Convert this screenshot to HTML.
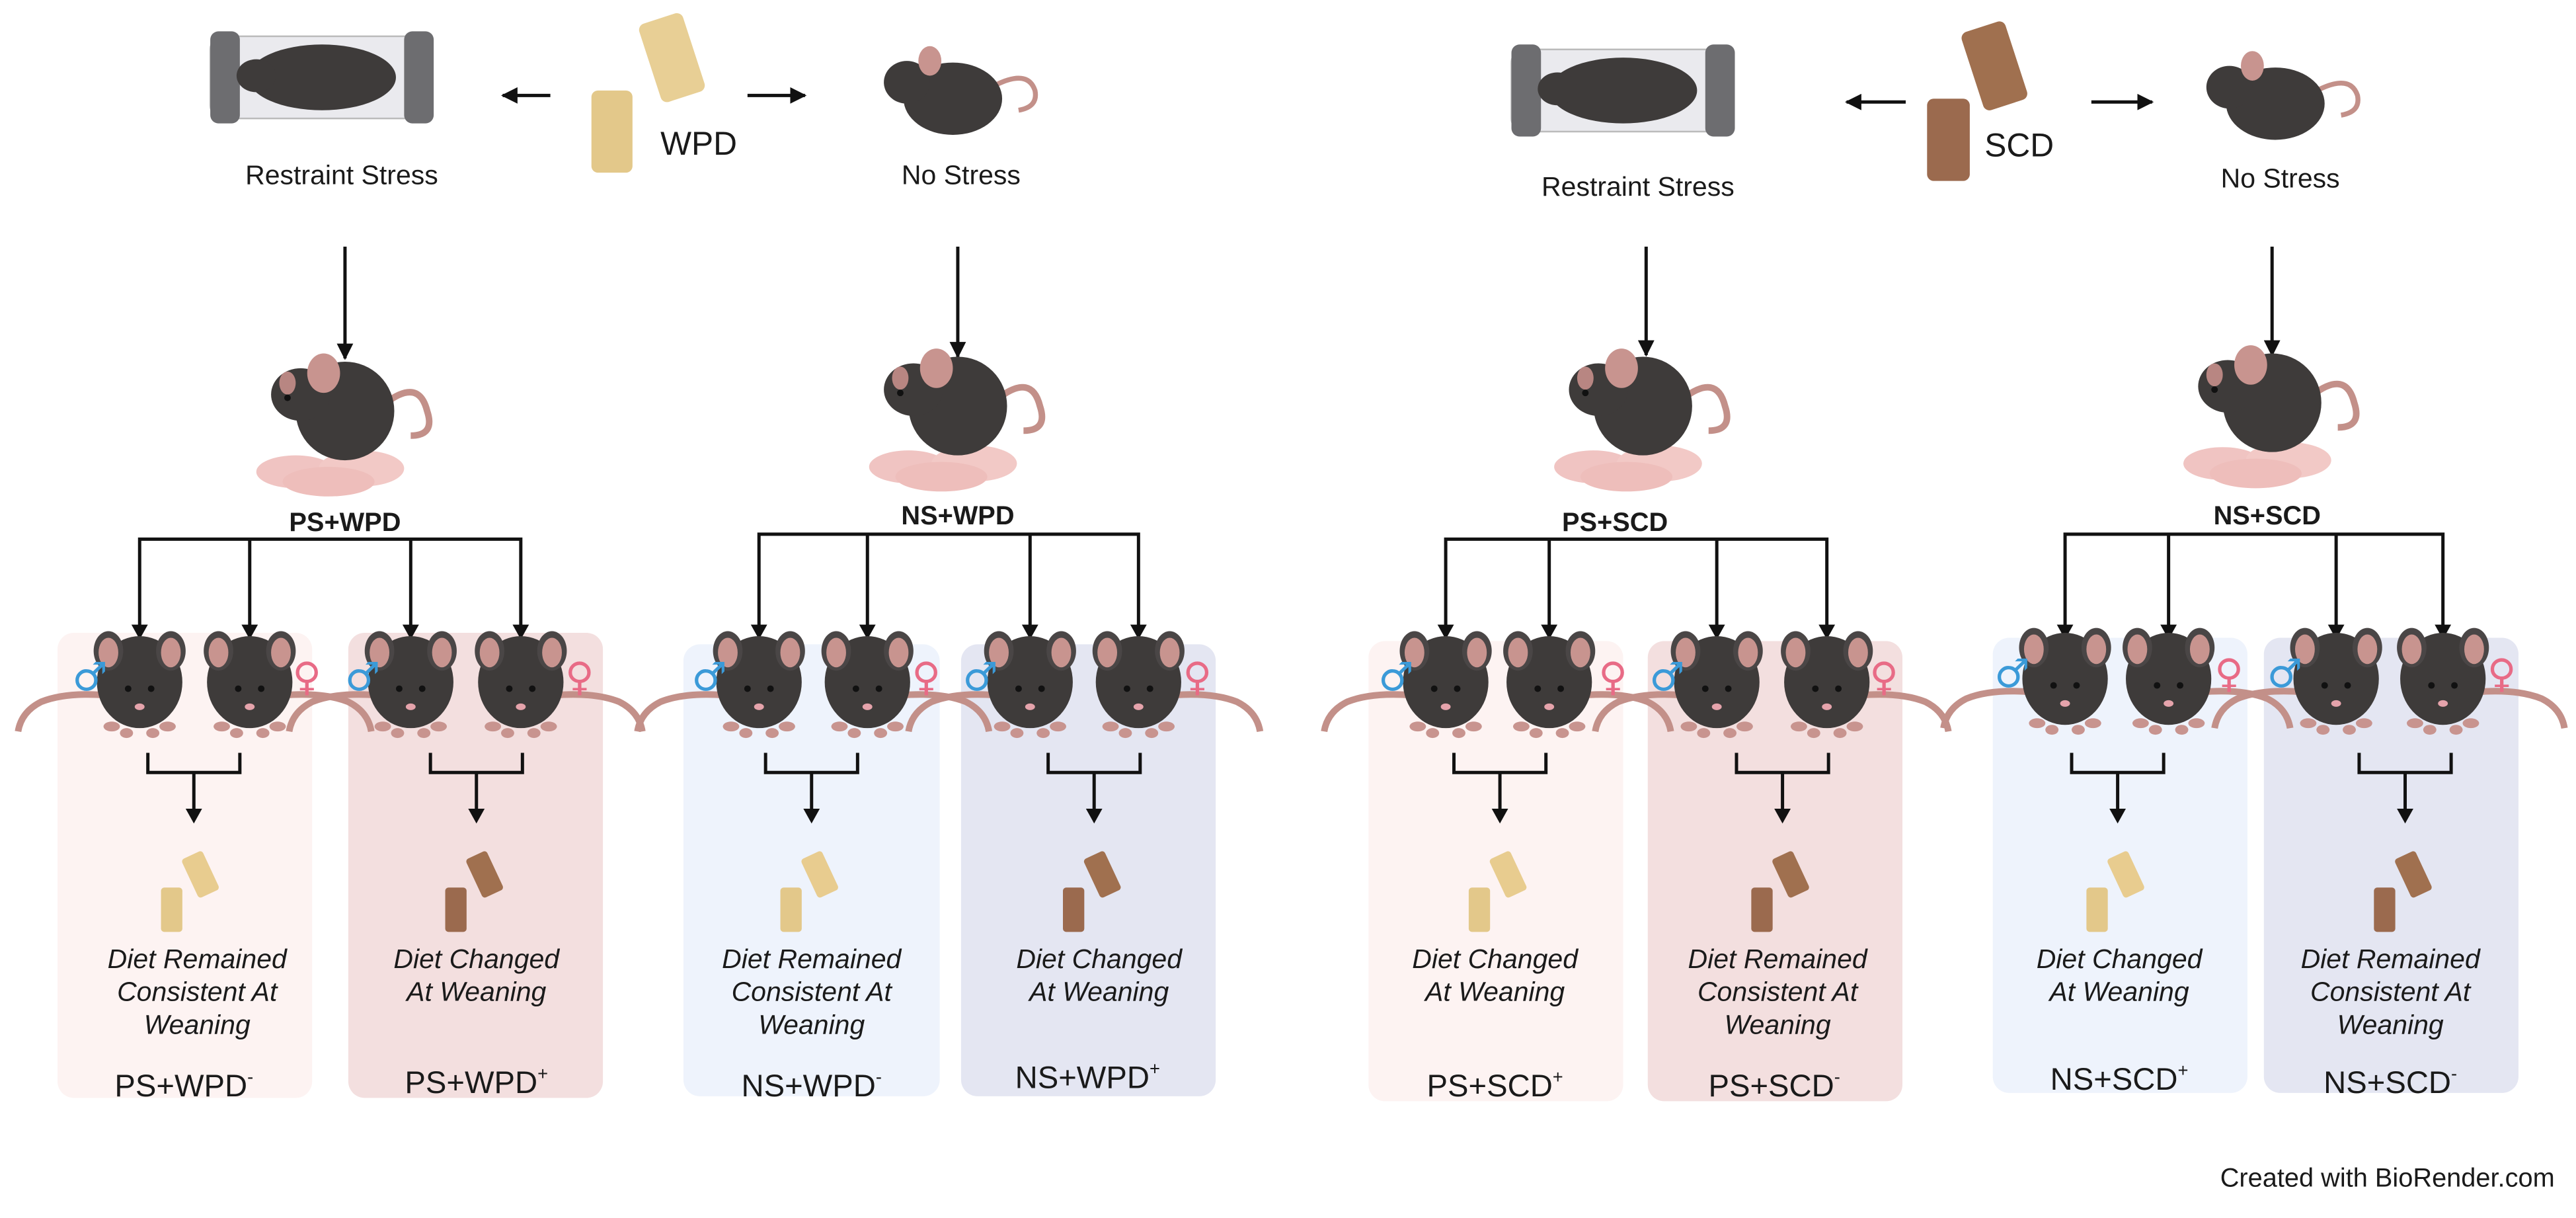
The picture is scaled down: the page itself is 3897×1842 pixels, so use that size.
<!DOCTYPE html>
<html><head><meta charset="utf-8"><style>
html,body{margin:0;padding:0;background:#fff}
svg{display:block}
text{font-family:"Liberation Sans",sans-serif;fill:#1a1a1a}
.it{font-style:italic;font-size:16.5px}
.lab{font-size:19px}
.b{font-weight:bold;font-size:16px}
text.m{fill:#3b9ad8;font-family:"DejaVu Sans",sans-serif}
text.f{fill:#e86b86;font-family:"DejaVu Sans",sans-serif}
</style></head><body>
<svg width="3897" height="1842" viewBox="0 0 1568 741" xmlns="http://www.w3.org/2000/svg">
<defs>
<marker id="ah" viewBox="0 0 10 10" refX="9" refY="5" markerWidth="5" markerHeight="5" orient="auto-start-reverse"><path d="M0,0L10,5L0,10z" fill="#111"/></marker>
<g id="mf">
 <path d="M-20,8 Q-45,6 -60,12 Q-72,18 -74,30" stroke="#c39089" stroke-width="4" fill="none"/>
 <ellipse cx="0" cy="0" rx="26" ry="28" fill="#3e3b3a"/>
 <ellipse cx="-19" cy="-19" rx="9" ry="12" fill="#4a4646"/><ellipse cx="-19" cy="-18" rx="6" ry="9" fill="#c8948f"/>
 <ellipse cx="19" cy="-19" rx="9" ry="12" fill="#4a4646"/><ellipse cx="19" cy="-18" rx="6" ry="9" fill="#c8948f"/>
 <circle cx="-7" cy="4" r="2" fill="#111"/><circle cx="7" cy="4" r="2" fill="#111"/>
 <ellipse cx="0" cy="15" rx="3" ry="2" fill="#e5a3ab"/>
 <ellipse cx="-17" cy="27" rx="5" ry="3" fill="#c8948f"/><ellipse cx="17" cy="27" rx="5" ry="3" fill="#c8948f"/>
 <ellipse cx="-8" cy="31" rx="4" ry="3" fill="#c8948f"/><ellipse cx="8" cy="31" rx="4" ry="3" fill="#c8948f"/>
</g>
<g id="mom">
 <ellipse cx="-25" cy="62" rx="24" ry="10" fill="#f0c4c2"/><ellipse cx="15" cy="60" rx="26" ry="11" fill="#f2c9c6"/><ellipse cx="-5" cy="68" rx="28" ry="9" fill="#eebebb"/>
 <path d="M30,20 Q50,5 55,25 Q60,40 45,40" stroke="#c39089" stroke-width="4" fill="none"/>
 <ellipse cx="5" cy="25" rx="30" ry="30" fill="#3e3b3a"/>
 <ellipse cx="-22" cy="15" rx="18" ry="16" fill="#3e3b3a"/>
 <ellipse cx="-8" cy="2" rx="10" ry="12" fill="#c8948f"/><ellipse cx="-30" cy="8" rx="5" ry="7" fill="#b88682"/>
 <circle cx="-30" cy="17" r="2" fill="#111"/>
</g>
<g id="tube">
 <rect x="0" y="0" width="130" height="50" rx="8" fill="#eaeaee" stroke="#bbb"/>
 <rect x="0" y="-3" width="18" height="56" rx="5" fill="#6d6d70"/>
 <rect x="118" y="-3" width="18" height="56" rx="5" fill="#6d6d70"/>
 <ellipse cx="68" cy="25" rx="45" ry="20" fill="#3e3b3a"/>
 <ellipse cx="28" cy="24" rx="12" ry="10" fill="#3e3b3a"/>
</g>
<g id="mside">
 <path d="M30,10 Q55,-5 60,10 Q62,20 50,22" stroke="#c39089" stroke-width="3" fill="none"/>
 <ellipse cx="10" cy="15" rx="30" ry="22" fill="#3e3b3a"/>
 <ellipse cx="-18" cy="5" rx="14" ry="13" fill="#3e3b3a"/>
 <ellipse cx="-4" cy="-8" rx="7" ry="9" fill="#c8948f"/>
</g>
</defs>

<rect x="35" y="385" width="155" height="283" rx="10" fill="#fdf3f2"/>
<rect x="212" y="385" width="155" height="283" rx="10" fill="#f3dfdf"/>
<rect x="416" y="392" width="156" height="275" rx="10" fill="#eef3fc"/>
<rect x="585" y="392" width="155" height="275" rx="10" fill="#e4e6f2"/>
<rect x="833" y="390" width="155" height="280" rx="10" fill="#fdf3f2"/>
<rect x="1003" y="390" width="155" height="280" rx="10" fill="#f3dfdf"/>
<rect x="1213" y="388" width="155" height="277" rx="10" fill="#eef3fc"/>
<rect x="1378" y="388" width="155" height="277" rx="10" fill="#e4e6f2"/>

<g stroke="#111" stroke-width="2" fill="none">
<line x1="335" y1="58" x2="306" y2="58" marker-end="url(#ah)"/>
<line x1="455" y1="58" x2="490" y2="58" marker-end="url(#ah)"/>
<line x1="1160" y1="62" x2="1124" y2="62" marker-end="url(#ah)"/>
<line x1="1273" y1="62" x2="1310" y2="62" marker-end="url(#ah)"/>
<line x1="210" y1="150" x2="210" y2="218" marker-end="url(#ah)"/>
<line x1="583" y1="150" x2="583" y2="217" marker-end="url(#ah)"/>
<line x1="1002" y1="150" x2="1002" y2="216" marker-end="url(#ah)"/>
<line x1="1383" y1="150" x2="1383" y2="216" marker-end="url(#ah)"/>
<path d="M85,387V328H317V387M152,328V387M250,328V387"/>
<path d="M462,387V325H693V387M528,325V387M627,325V387"/>
<path d="M880,387V328H1112V387M943,328V387M1045,328V387"/>
<path d="M1257,387V325H1487V387M1320,325V387M1422,325V387"/>
</g>
<g fill="#111">
<path d="M80,380H90L85,389z"/>
<path d="M147,380H157L152,389z"/><path d="M245,380H255L250,389z"/><path d="M312,380H322L317,389z"/>
<path d="M457,380H467L462,389z"/><path d="M523,380H533L528,389z"/><path d="M622,380H632L627,389z"/><path d="M688,380H698L693,389z"/>
<path d="M875,380H885L880,389z"/><path d="M938,380H948L943,389z"/><path d="M1040,380H1050L1045,389z"/><path d="M1107,380H1117L1112,389z"/>
<path d="M1252,380H1262L1257,389z"/><path d="M1315,380H1325L1320,389z"/><path d="M1417,380H1427L1422,389z"/><path d="M1482,380H1492L1487,389z"/>
</g>

<use href="#tube" x="128" y="22"/>
<use href="#tube" x="920" y="30"/>
<use href="#mside" x="570" y="45"/>
<use href="#mside" x="1375" y="48"/>
<rect x="360" y="55" width="25" height="50" rx="4" fill="#e3c88a"/>
<rect x="395" y="10" width="28" height="50" rx="4" fill="#e8cf95" transform="rotate(-18 409 35)"/>
<rect x="1173" y="60" width="26" height="50" rx="4" fill="#9b6a4e"/>
<rect x="1200" y="15" width="28" height="50" rx="4" fill="#a0704f" transform="rotate(-18 1214 40)"/>
<text x="402" y="94" font-size="20">WPD</text>
<text x="1208" y="95" font-size="20">SCD</text>
<text x="208" y="112" font-size="16.5" text-anchor="middle">Restraint Stress</text>
<text x="585" y="112" font-size="16.5" text-anchor="middle">No Stress</text>
<text x="997" y="119" font-size="16.5" text-anchor="middle">Restraint Stress</text>
<text x="1388" y="114" font-size="16.5" text-anchor="middle">No Stress</text>

<use href="#mom" x="205" y="225"/>
<use href="#mom" x="578" y="222"/>
<use href="#mom" x="995" y="222"/>
<use href="#mom" x="1378" y="220"/>
<text class="b" x="210" y="323" text-anchor="middle">PS+WPD</text>
<text class="b" x="583" y="319" text-anchor="middle">NS+WPD</text>
<text class="b" x="983" y="323" text-anchor="middle">PS+SCD</text>
<text class="b" x="1380" y="319" text-anchor="middle">NS+SCD</text>

<g>
<use href="#mf" x="85" y="415"/><use href="#mf" x="152" y="415" transform="translate(304,0) scale(-1,1)"/>
<use href="#mf" x="250" y="415"/><use href="#mf" x="317" y="415" transform="translate(634,0) scale(-1,1)"/>
<use href="#mf" x="462" y="415"/><use href="#mf" x="528" y="415" transform="translate(1056,0) scale(-1,1)"/>
<use href="#mf" x="627" y="415"/><use href="#mf" x="693" y="415" transform="translate(1386,0) scale(-1,1)"/>
<use href="#mf" x="880" y="415"/><use href="#mf" x="943" y="415" transform="translate(1886,0) scale(-1,1)"/>
<use href="#mf" x="1045" y="415"/><use href="#mf" x="1112" y="415" transform="translate(2224,0) scale(-1,1)"/>
<use href="#mf" x="1257" y="413"/><use href="#mf" x="1320" y="413" transform="translate(2640,0) scale(-1,1)"/>
<use href="#mf" x="1422" y="413"/><use href="#mf" x="1487" y="413" transform="translate(2974,0) scale(-1,1)"/>
</g>
<g font-size="24">
<text class="m" x="44" y="420">♂</text><text class="f" x="178" y="420">♀</text>
<text class="m" x="210" y="420">♂</text><text class="f" x="344" y="420">♀</text>
<text class="m" x="421" y="420">♂</text><text class="f" x="555" y="420">♀</text>
<text class="m" x="586" y="420">♂</text><text class="f" x="720" y="420">♀</text>
<text class="m" x="839" y="420">♂</text><text class="f" x="973" y="420">♀</text>
<text class="m" x="1004" y="420">♂</text><text class="f" x="1138" y="420">♀</text>
<text class="m" x="1214" y="418">♂</text><text class="f" x="1348" y="418">♀</text>
<text class="m" x="1380" y="418">♂</text><text class="f" x="1514" y="418">♀</text>
</g>

<g stroke="#111" stroke-width="2" fill="none">
<path d="M90,458V470H146V458M118,470V494"/>
<path d="M262,458V470H318V458M290,470V494"/>
<path d="M466,458V470H522V458M494,470V494"/>
<path d="M638,458V470H694V458M666,470V494"/>
<path d="M885,458V470H941V458M913,470V494"/>
<path d="M1057,458V470H1113V458M1085,470V494"/>
<path d="M1261,458V470H1317V458M1289,470V494"/>
<path d="M1436,458V470H1492V458M1464,470V494"/>
</g>
<g fill="#111">
<path d="M113,492H123L118,501z"/><path d="M285,492H295L290,501z"/><path d="M489,492H499L494,501z"/><path d="M661,492H671L666,501z"/>
<path d="M908,492H918L913,501z"/><path d="M1080,492H1090L1085,501z"/><path d="M1284,492H1294L1289,501z"/><path d="M1459,492H1469L1464,501z"/>
</g>
<g>
<rect x="98" y="540" width="13" height="27" rx="2" fill="#e3c88a"/><rect x="115" y="519" width="14" height="26" rx="2" fill="#e8cc8f" transform="rotate(-25 122 532)"/>
<rect x="271" y="540" width="13" height="27" rx="2" fill="#9b6a4e"/><rect x="288" y="519" width="14" height="26" rx="2" fill="#a0704f" transform="rotate(-25 295 532)"/>
<rect x="475" y="540" width="13" height="27" rx="2" fill="#e3c88a"/><rect x="492" y="519" width="14" height="26" rx="2" fill="#e8cc8f" transform="rotate(-25 499 532)"/>
<rect x="647" y="540" width="13" height="27" rx="2" fill="#9b6a4e"/><rect x="664" y="519" width="14" height="26" rx="2" fill="#a0704f" transform="rotate(-25 671 532)"/>
<rect x="894" y="540" width="13" height="27" rx="2" fill="#e3c88a"/><rect x="911" y="519" width="14" height="26" rx="2" fill="#e8cc8f" transform="rotate(-25 918 532)"/>
<rect x="1066" y="540" width="13" height="27" rx="2" fill="#9b6a4e"/><rect x="1083" y="519" width="14" height="26" rx="2" fill="#a0704f" transform="rotate(-25 1090 532)"/>
<rect x="1270" y="540" width="13" height="27" rx="2" fill="#e3c88a"/><rect x="1287" y="519" width="14" height="26" rx="2" fill="#e8cc8f" transform="rotate(-25 1294 532)"/>
<rect x="1445" y="540" width="13" height="27" rx="2" fill="#9b6a4e"/><rect x="1462" y="519" width="14" height="26" rx="2" fill="#a0704f" transform="rotate(-25 1469 532)"/>
</g>
<g class="it" text-anchor="middle">
<text x="120" y="589">Diet Remained</text><text x="120" y="609">Consistent At</text><text x="120" y="629">Weaning</text>
<text x="290" y="589">Diet Changed</text><text x="290" y="609">At Weaning</text>
<text x="494" y="589">Diet Remained</text><text x="494" y="609">Consistent At</text><text x="494" y="629">Weaning</text>
<text x="669" y="589">Diet Changed</text><text x="669" y="609">At Weaning</text>
<text x="910" y="589">Diet Changed</text><text x="910" y="609">At Weaning</text>
<text x="1082" y="589">Diet Remained</text><text x="1082" y="609">Consistent At</text><text x="1082" y="629">Weaning</text>
<text x="1290" y="589">Diet Changed</text><text x="1290" y="609">At Weaning</text>
<text x="1455" y="589">Diet Remained</text><text x="1455" y="609">Consistent At</text><text x="1455" y="629">Weaning</text>
</g>
<g class="lab" text-anchor="middle">
<text x="112" y="667">PS+WPD<tspan font-size="11" dy="-8">-</tspan></text>
<text x="290" y="665">PS+WPD<tspan font-size="11" dy="-8">+</tspan></text>
<text x="494" y="667">NS+WPD<tspan font-size="11" dy="-8">-</tspan></text>
<text x="662" y="662">NS+WPD<tspan font-size="11" dy="-8">+</tspan></text>
<text x="910" y="667">PS+SCD<tspan font-size="11" dy="-8">+</tspan></text>
<text x="1080" y="667">PS+SCD<tspan font-size="11" dy="-8">-</tspan></text>
<text x="1290" y="663">NS+SCD<tspan font-size="11" dy="-8">+</tspan></text>
<text x="1455" y="665">NS+SCD<tspan font-size="11" dy="-8">-</tspan></text>
</g>
<text x="1555" y="722" font-size="16" text-anchor="end">Created with BioRender.com</text>
</svg>
</body></html>
